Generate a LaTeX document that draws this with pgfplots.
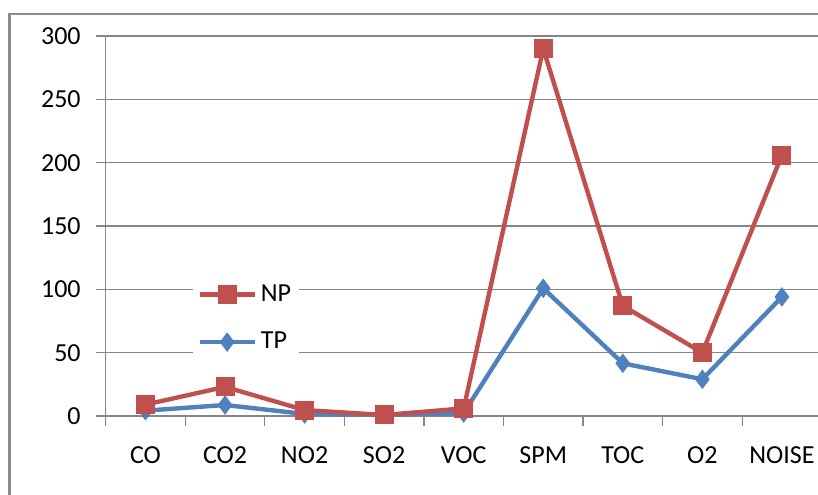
\documentclass[border=0pt]{standalone}
\usepackage{pgfplots}
\pgfplotsset{compat=1.18}
\usepackage{fontspec}
\setmainfont{Carlito}

\definecolor{npred}{RGB}{192,80,77}
\definecolor{tpblue}{RGB}{79,129,189}
\definecolor{gridgray}{RGB}{134,134,134}

\begin{document}
\begin{tikzpicture}
% 1px = 0.5pt, origin at axis lower-left (pixel 105.7,416)
\useasboundingbox (-52.85pt,-39pt) rectangle (356.15pt,208pt);
\clip (-52.85pt,-39pt) rectangle (356.15pt,208pt);
\draw[gray!90, line width=1.3pt] (-48pt,201pt) rectangle (400pt,-80pt);
\begin{axis}[
    at={(0pt,0pt)}, anchor=south west,
    scale only axis,
    width=358pt, height=190pt,
    xmin=-0.5, xmax=8.5,
    ymin=0, ymax=300,
    axis x line*=bottom,
    axis y line*=left,
    axis line style={gridgray, line width=0.6pt},
    tick align=outside,
    xtick={0,...,8},
    xticklabels={CO,CO2,NO2,SO2,VOC,SPM,TOC,O2,NOISE},
    major x tick style={draw=none},
    minor xtick={-0.5,0.5,...,8.5},
    minor x tick style={gridgray, line width=0.6pt},
    minor tick length=5pt,
    ytick={0,50,...,300},
    major tick length=4.8pt,
    y tick style={gridgray, line width=0.6pt},
    ymajorgrids=true,
    grid style={gridgray, line width=0.6pt},
    tick label style={font=\fontsize{13}{15}\selectfont, text=black},
    xticklabel style={yshift=-7pt, text height=8.5pt},
    yticklabel style={xshift=-4.2pt},
    /pgf/number format/assume math mode=true,
    reverse legend,
    legend cell align=left,
    legend style={at={(0.122,0.368)}, anchor=north west, draw=none, fill=white,
        font=\fontsize{13}{15}\selectfont, row sep=10pt, inner sep=2pt},
    legend image code/.code={
        \draw[mark repeat=2, mark phase=2, #1] plot coordinates {(0pt,0pt) (13.75pt,0pt) (27.5pt,0pt)};
    },
]
\addplot[tpblue, line width=2.2pt, mark=diamond*, mark size=4.5pt,
    mark options={solid, line width=0.5pt}]
    coordinates {(0,4.2) (1,8.7) (2,1.6) (3,1) (4,2.4) (5,100.8) (6,41.6) (7,29) (8,94)};
\addlegendentry{TP}
\addplot[npred, line width=2.2pt, mark=square*, mark size=4.5pt,
    mark options={solid, line width=0.5pt}]
    coordinates {(0,9) (1,23) (2,4.7) (3,0.8) (4,6) (5,290) (6,87) (7,50) (8,206)};
\addlegendentry{NP}
\end{axis}
\end{tikzpicture}
\end{document}
